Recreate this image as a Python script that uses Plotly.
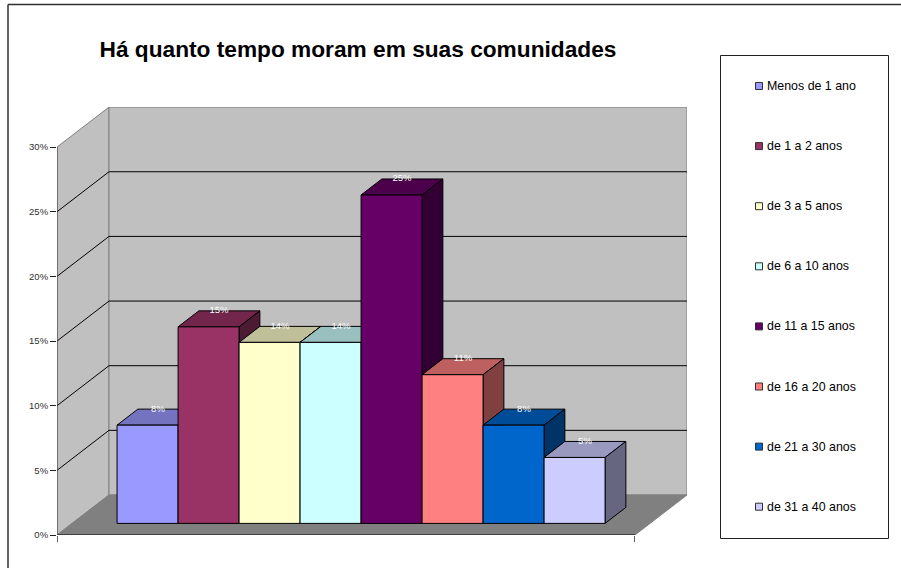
import plotly.graph_objects as go

# ---- data ----
TITLE = "Há quanto tempo moram em suas comunidades"
categories = ["Menos de 1 ano", "de 1 a 2 anos", "de 3 a 5 anos", "de 6 a 10 anos",
              "de 11 a 15 anos", "de 16 a 20 anos", "de 21 a 30 anos", "de 31 a 40 anos"]
values = [7.6, 15.2, 14.0, 14.0, 25.4, 11.5, 7.6, 5.1]
value_labels = ["8%", "15%", "14%", "14%", "25%", "11%", "8%", "5%"]
colors = ["#9999FF", "#993366", "#FFFFCC", "#CCFFFF", "#660066", "#FF8080", "#0066CC", "#CCCCFF"]
y_ticks = [0, 5, 10, 15, 20, 25, 30]

# ---- layout constants ----
W, H = 901, 568
X0, Y0 = 57, 535          # pixel position of the front-left floor corner
BAR_PX, PCT_PX = 61.0, 12.93   # pixels per bar width, pixels per percent
DEPTH_X_PX, DEPTH_Y_PX = 52.0, 40.0
X_RIGHT, Y_TOP = 687, 107
GAP = 0.7375
FLOOR_W = len(values) + 2 * GAP
BAR_D0, BAR_D1 = 0.29, 0.69
Y_MAX = y_ticks[-1]


def hex_shade(c, k):
    r, g, b = (int(c[i:i + 2], 16) for i in (1, 3, 5))
    return f"rgb({round(r * k)},{round(g * k)},{round(b * k)})"


def project(u, v, d):
    """Oblique projection: category position, percent, depth (0 front .. 1 back)."""
    return u + d * DEPTH_X_PX / BAR_PX, v + d * DEPTH_Y_PX / PCT_PX


def poly(points, fill=None, line="#000000", close=True, lw=1):
    xy = [project(*p) for p in points]
    path = "M" + " L".join(f"{x:.4f},{y:.4f}" for x, y in xy) + (" Z" if close else "")
    s = dict(type="path", path=path, xref="x", yref="y", layer="between",
             line=dict(color=line, width=lw))
    if fill:
        s["fillcolor"] = fill
    return s


def paper_x(px):
    return px / W


def paper_y(px):
    return 1 - px / H


shapes = []
# walls and floor
shapes.append(poly([(0, 0, 0), (0, 0, 1), (0, Y_MAX, 1), (0, Y_MAX, 0)], "#C0C0C0", "#808080"))
shapes.append(poly([(0, 0, 1), (FLOOR_W, 0, 1), (FLOOR_W, Y_MAX, 1), (0, Y_MAX, 1)], "#C0C0C0", "#808080"))
shapes.append(poly([(0, 0, 0), (FLOOR_W, 0, 0), (FLOOR_W, 0, 1), (0, 0, 1)], "#808080", "#808080"))
# gridlines
for t in y_ticks[1:-1]:
    shapes.append(poly([(0, t, 0), (0, t, 1), (FLOOR_W, t, 1)], None, "#000000", close=False))
# front floor edge and value axis line
shapes.append(poly([(0, 0, 0), (FLOOR_W, 0, 0)], None, "#000000", close=False))
shapes.append(poly([(0, 0, 0), (0, Y_MAX, 0)], None, "#404040", close=False))

# tops and sides of the bars, left to right
for i, (v, c) in enumerate(zip(values, colors)):
    l = GAP + i
    r = l + 1
    shapes.append(poly([(l, v, BAR_D0), (r, v, BAR_D0), (r, v, BAR_D1), (l, v, BAR_D1)], hex_shade(c, 0.75)))
    shapes.append(poly([(r, 0, BAR_D0), (r, v, BAR_D0), (r, v, BAR_D1), (r, 0, BAR_D1)], hex_shade(c, 0.5)))

fig = go.Figure()

# front faces
base_x, base_y = project(GAP + 0.5, 0, BAR_D0)
for i, (name, v, c) in enumerate(zip(categories, values, colors)):
    fig.add_trace(go.Bar(x=[base_x + i], y=[v], base=base_y, width=1, name=name,
                         marker=dict(color=c, line=dict(color="#000000", width=1)),
                         showlegend=False))

# value labels on the top faces
label_x = [project(GAP + 0.5 + i, 0, (BAR_D1 - BAR_D0) / 2 + BAR_D0)[0] for i in range(len(values))]
label_y = [project(0, v, BAR_D1)[1] for v in values]
fig.add_trace(go.Scatter(x=label_x, y=label_y, text=value_labels, mode="text",
                         textposition="middle center", showlegend=False,
                         textfont=dict(family="Liberation Sans, Arial", size=9.5, color="#FFFFFF")))

# chart frame (open at the right and bottom, as in the picture)
frame = dict(type="line", xref="paper", yref="paper", line=dict(color="#303030", width=1.5))
shapes.append(dict(frame, x0=paper_x(8), x1=paper_x(8), y0=paper_y(4.5), y1=0))
shapes.append(dict(frame, x0=paper_x(8), x1=1, y0=paper_y(4.5), y1=paper_y(4.5)))

# legend box and entries
shapes.append(dict(type="rect", xref="paper", yref="paper", x0=paper_x(720.5), x1=paper_x(888.5),
                   y0=paper_y(55.5), y1=paper_y(538.5), fillcolor="#FFFFFF",
                   line=dict(color="#202020", width=1)))
annotations = []
LEGEND_Y0, LEGEND_STEP = 86, 60.1
for i, (name, c) in enumerate(zip(categories, colors)):
    cy = LEGEND_Y0 + i * LEGEND_STEP
    shapes.append(dict(type="rect", xref="paper", yref="paper", x0=paper_x(755.5), x1=paper_x(762.5),
                       y0=paper_y(cy - 3.5), y1=paper_y(cy + 3.5), fillcolor=c,
                       line=dict(color="#303030", width=1)))
    annotations.append(dict(text=name, xref="paper", yref="paper", x=paper_x(765), y=paper_y(cy),
                            xanchor="left", yanchor="middle", showarrow=False,
                            font=dict(family="Liberation Sans, Arial", size=12.4, color="#000000")))

fig.update_layout(
    width=W, height=H, autosize=False,
    margin=dict(l=0, r=0, t=0, b=0, pad=0),
    paper_bgcolor="#FFFFFF", plot_bgcolor="rgba(0,0,0,0)",
    barmode="overlay", showlegend=False,
    title=dict(text=f"<b>{TITLE}</b>", x=99.5 / W, xanchor="left", y=paper_y(49), yanchor="middle",
               font=dict(family="Liberation Sans, Arial", size=22.7, color="#000000")),
    xaxis=dict(domain=[paper_x(X0), paper_x(X_RIGHT)], automargin=False,
               range=[0, (X_RIGHT - X0) / BAR_PX],
               tickvals=[0, FLOOR_W], ticks="outside", ticklen=6, tickcolor="#606060", tickwidth=1,
               showticklabels=False, showgrid=False, zeroline=False, showline=False),
    yaxis=dict(domain=[paper_y(Y0), paper_y(Y_TOP)], automargin=False,
               range=[0, (Y0 - Y_TOP) / PCT_PX],
               tickvals=y_ticks, ticktext=[f"{t}%" for t in y_ticks],
               ticks="outside", ticklen=6, tickcolor="#202020", tickwidth=1,
               tickfont=dict(family="Liberation Sans, Arial", size=9.5, color="#303030"),
               showgrid=False, zeroline=False, showline=False),
    shapes=shapes, annotations=annotations,
)

fig.write_html("out.html", config=dict(displayModeBar=False),
               post_script="document.body.style.margin='0';document.body.style.overflow='hidden';")
